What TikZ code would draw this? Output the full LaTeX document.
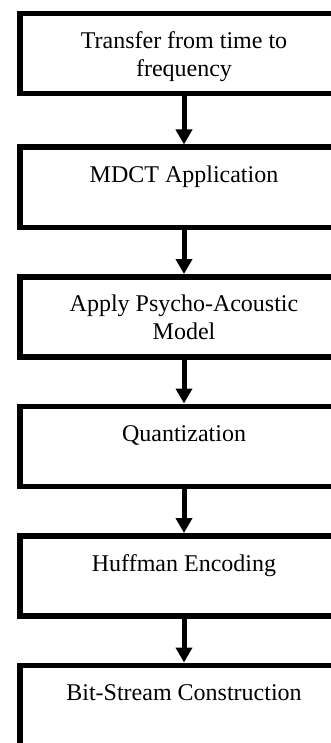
\documentclass[tikz,border=0pt]{standalone}
\usepackage{fontspec}
\setmainfont{Liberation Serif}
\usetikzlibrary{positioning,arrows.meta}
\tikzset{
  stage/.style={draw, line width=5.5pt, minimum width=328pt, minimum height=80pt,
    align=center, font=\fontsize{24}{28}\selectfont, text depth=-4pt},
  single/.style={stage, text height=20pt, text depth=29pt},
  flow/.style={line width=5pt, -{Triangle[width=16pt,length=15pt]}}
}
\begin{document}
\begin{tikzpicture}[node distance=44pt]
	\useasboundingbox (0,0) rectangle (331pt,-743pt);
	\clip (0,0) rectangle (331pt,-743pt);
	\node[stage] (time) at (184pt,-53.75pt) {Transfer from time to\\frequency};
	\node[single, below=48pt of time] (mdct) {MDCT Application};
	\node[stage, below=of mdct] (psycho) {Apply Psycho-Acoustic\\Model};
	\node[single, below=of psycho] (quant) {Quantization};
	\node[single, below=of quant] (huff) {Huffman Encoding};
	\node[single, below=of huff] (bits) {Bit-Stream Construction};
	% arrows between stages
	\draw[flow] (time) -- (mdct);
	\draw[flow] (mdct) -- (psycho);
	\draw[flow] (psycho) -- (quant);
	\draw[flow] (quant) -- (huff);
	\draw[flow] (huff) -- (bits);
\end{tikzpicture}
\end{document}
